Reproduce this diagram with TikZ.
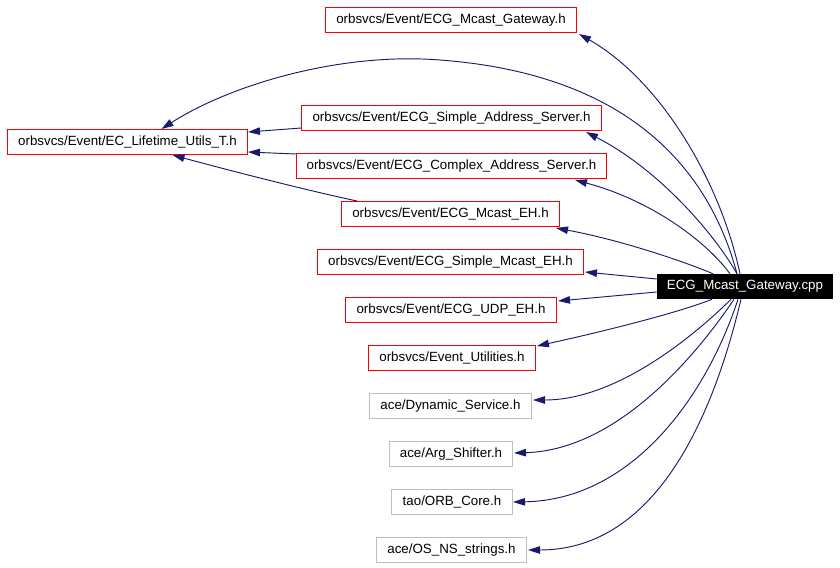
\documentclass[tikz,border=0pt]{standalone}
\usepackage{fontspec}
\setmainfont{Liberation Sans}
\usetikzlibrary{arrows.meta,calc}
\definecolor{edgeblue}{HTML}{191970}
\definecolor{boxred}{HTML}{FF0000}
\definecolor{boxgray}{HTML}{BFBFBF}
\begin{document}
\begin{tikzpicture}[x=0.75pt,y=-0.75pt,
  every node/.style={font=\fontsize{10pt}{12pt}\selectfont},
  hbox/.style={draw=boxred,line width=0.75pt,minimum height=18.75pt,inner sep=0pt,fill=white},
  gbox/.style={hbox,draw=boxgray},
  cbox/.style={fill=black,text=white,minimum height=18.75pt,inner sep=0pt},
  bw/.style={minimum width=#1*0.75pt},
  dep/.style={draw=edgeblue,line width=0.7pt,-{Triangle[length=9pt,width=5.6pt]}}]
\path[use as bounding box,fill=white] (0,0) rectangle (840,568);

\node[hbox,bw=251] (gwh) at (451,20) {orbsvcs/Event/ECG\_Mcast\_Gateway.h};
\node[hbox,bw=240] (life) at (127.5,142) {orbsvcs/Event/EC\_Lifetime\_Utils\_T.h};
\node[hbox,bw=300] (sas) at (451.5,118) {orbsvcs/Event/ECG\_Simple\_Address\_Server.h};
\node[hbox,bw=310] (cas) at (451.5,166) {orbsvcs/Event/ECG\_Complex\_Address\_Server.h};
\node[hbox,bw=218] (meh) at (450.5,214) {orbsvcs/Event/ECG\_Mcast\_EH.h};
\node[hbox,bw=266] (smeh) at (450.5,262) {orbsvcs/Event/ECG\_Simple\_Mcast\_EH.h};
\node[hbox,bw=211] (udp) at (451,310) {orbsvcs/Event/ECG\_UDP\_EH.h};
\node[hbox,bw=167] (evu) at (452,358) {orbsvcs/Event\_Utilities.h};
\node[gbox,bw=162] (dyn) at (450.5,406) {ace/Dynamic\_Service.h};
\node[gbox,bw=123] (arg) at (451,454) {ace/Arg\_Shifter.h};
\node[gbox,bw=121] (orb) at (452,502) {tao/ORB\_Core.h};
\node[gbox,bw=150] (osns) at (451.5,550) {ace/OS\_NS\_strings.h};
\node[cbox,bw=176] (cpp) at (745,286.5) {ECG\_Mcast\_Gateway.cpp};

% edges to EC_Lifetime_Utils_T.h
\draw[dep] ($(cpp.north)+(-8,0)$) .. controls (712,180) and (640,75) .. (440,60)
   .. controls (340,52) and (230,85) .. ($(life.north)+(34,0)$);
\draw[dep] ($(sas.south west)+(0,-3)$) -- ($(life.east)+(0,-10)$);
\draw[dep] ($(cas.north west)+(0,1)$) -- ($(life.south east)+(0,-3)$);
\draw[dep] ($(meh.north west)+(16,0)$) .. controls (310,191) and (235,172) .. ($(life.south)+(45,0)$);

% edges from the .cpp
\draw[dep] ($(cpp.north)+(-5,0)$) .. controls (720,180) and (660,80) .. ($(gwh.south east)+(2,1)$);
\draw[dep] ($(cpp.north)+(-8,0)$) .. controls (715,235) and (660,170) .. ($(sas.south east)+(-16,1)$);
\draw[dep] ($(cpp.north)+(-15,0)$) .. controls (705,240) and (650,200) .. ($(cas.south east)+(-32,1)$);
\draw[dep] ($(cpp.north)+(-32,0)$) .. controls (680,260) and (620,240) .. ($(meh.south east)+(-4,1)$);
\draw[dep] ($(cpp.west)+(0,-7.5)$) -- ($(smeh.south east)+(1,-3)$);
\draw[dep] ($(cpp.west)+(0,5.5)$) -- ($(udp.north east)+(1,4)$);
\draw[dep] ($(cpp.south)+(-33,0)$) .. controls (680,312) and (610,330) .. ($(evu.north east)+(1,1)$);
\draw[dep] ($(cpp.south)+(-14,0)$) .. controls (700,330) and (620,400) .. ($(dyn.east)+(1,-6)$);
\draw[dep] ($(cpp.south)+(-11,0)$) .. controls (700,350) and (620,450) .. ($(arg.east)+(1,-1)$);
\draw[dep] ($(cpp.south)+(-7,0)$) .. controls (705,400) and (630,500) .. ($(orb.east)+(0,0)$);
\draw[dep] ($(cpp.south)+(-4,0)$) .. controls (710,430) and (650,550) .. ($(osns.east)+(1,0)$);
\end{tikzpicture}
\end{document}
